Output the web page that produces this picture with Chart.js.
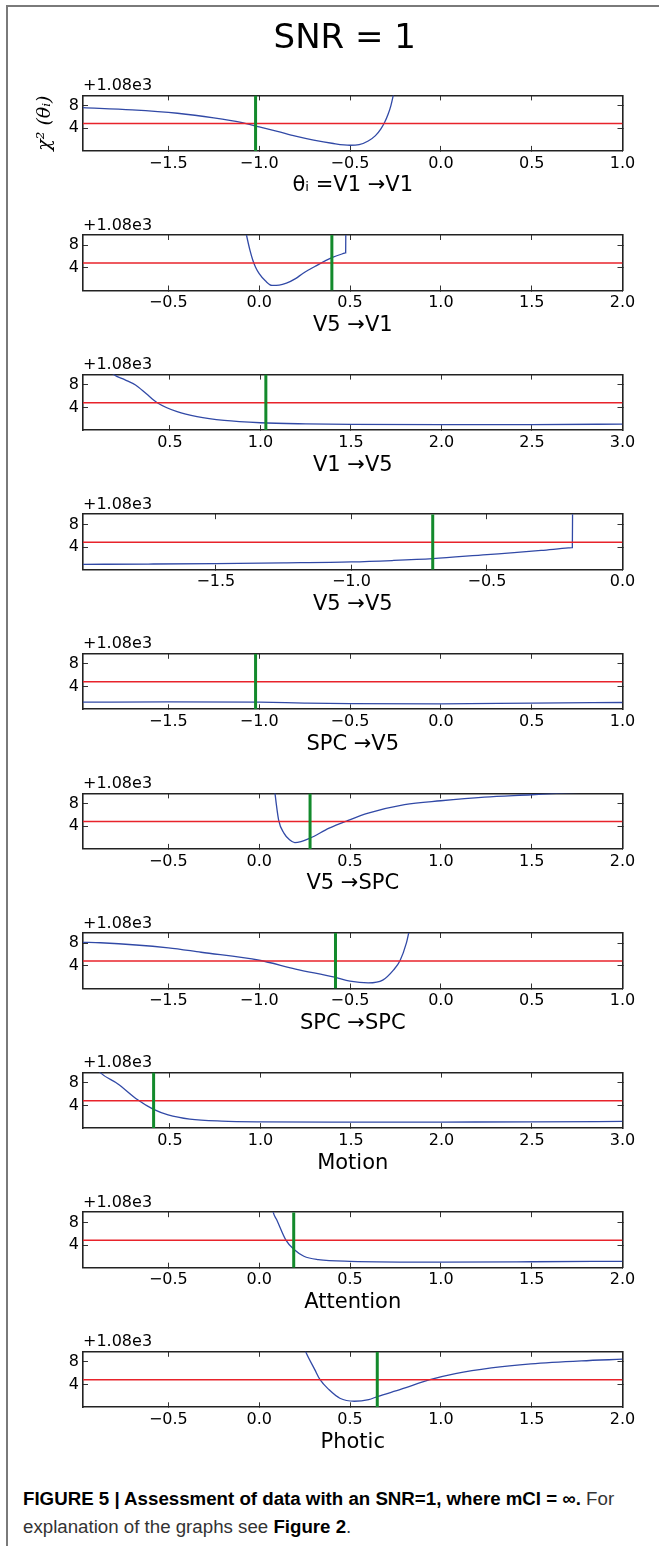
<!DOCTYPE html>
<html>
<head>
<meta charset="utf-8">
<script src="https://cdn.jsdelivr.net/npm/chart.js@4.4.0/dist/chart.umd.min.js"></script>
<style>
body{margin:0;background:#fff;}
#figure{position:relative;width:659px;height:1546px;overflow:hidden;background:#fff;}
#figure canvas{position:absolute;left:0;}
.frame_top{position:absolute;left:6px;top:5px;width:653px;height:2px;background:#7a7a7a;}
.frame_left{position:absolute;left:6px;top:5px;width:2px;height:1541px;background:#7a7a7a;}
.caption{position:absolute;left:23px;font-family:"Liberation Sans",Arial,sans-serif;font-size:18.7px;line-height:22px;color:#333;white-space:nowrap;}
.caption b{color:#000;}
</style>
</head>
<body>
<div id="figure">
  <div class="frame_top"></div>
  <div class="frame_left"></div>
  <div class="caption" style="top:1488px"><b>FIGURE 5 | Assessment of data with an SNR=1, where mCI = ∞.</b> For</div>
  <div class="caption" style="top:1516px">explanation of the graphs see <b>Figure 2</b>.</div>
</div>
<script>
//! values, chi2 is shown relative to the +1.08e3 offset

let panel_names=['θᵢ =V1 →V1','V5 →V1','V1 →V5','V5 →V5','SPC →V5','V5 →SPC','SPC →SPC','Motion','Attention','Photic'];
let panel_min=[-1.97,-0.97,0.02,-1.99,-1.97,-0.97,-1.97,0.02,-0.97,-0.97];
let panel_max=[1,2,3,0,1,2,1,3,2,2];
let ticks_neg=[-1.5,-1,-0.5,0,0.5,1];
let ticks_mid=[-0.5,0,0.5,1,1.5,2];
let ticks_pos=[0.5,1,1.5,2,2.5,3];
let ticks_self=[-1.5,-1,-0.5,0];
let panel_ticks=[ticks_neg,ticks_mid,ticks_pos,ticks_self,ticks_neg,ticks_mid,ticks_neg,ticks_pos,ticks_mid,ticks_mid];
let estimates=[-1.02,0.40,1.03,-0.70,-1.02,0.28,-0.58,0.41,0.19,0.65];
let threshold=4.85;
let y_ticks=[4,8];
let y_min=0;
let y_max=9.8;
let offset_text='+1.08e3';

let v1v1_x=[-1.97,-1.7,-1.45,-1.25,-1.1,-1.0,-0.9,-0.8,-0.7,-0.6,-0.5,-0.45,-0.4,-0.36,-0.33,-0.31,-0.29,-0.275,-0.262,-0.245];
let v1v1_y=[7.65,7.25,6.65,5.85,5.05,4.25,3.45,2.6,1.9,1.35,1.0,1.1,1.75,2.7,3.9,5.0,6.5,8.0,9.8,12.5];
let v5v1_x=[-0.09,-0.07,-0.05,-0.035,-0.02,0.0,0.035,0.07,0.11,0.15,0.2,0.24,0.31,0.4,0.47,0.475,0.476,0.477];
let v5v1_y=[13,9.8,7.0,5.35,4.1,2.97,1.66,0.9,0.95,1.3,2.1,3.0,4.3,5.8,6.6,6.65,6.65,12];
let v1v5_x=[0.1,0.19,0.25,0.31,0.37,0.43,0.54,0.65,0.8,1.0,1.25,1.5,2.0,2.5,3.0];
let v1v5_y=[13,9.8,8.9,7.95,6.4,4.84,3.25,2.36,1.7,1.3,1.1,1.0,0.95,0.98,1.05];
let v5v5_x=[-1.99,-1.75,-1.5,-1.25,-1.0,-0.85,-0.7,-0.5,-0.4,-0.3,-0.2,-0.186,-0.185,-0.184];
let v5v5_y=[0.94,1.0,1.08,1.2,1.37,1.62,1.96,2.67,3.0,3.4,3.85,3.9,3.9,12];
let spcv5_x=[-1.97,-1.5,-1.0,-0.75,-0.5,0.0,0.5,1.0];
let spcv5_y=[1.25,1.3,1.25,1.1,1.0,0.97,1.1,1.2];
let v5spc_x=[0.08,0.087,0.107,0.137,0.167,0.196,0.23,0.28,0.385,0.484,0.6,0.8,1.0,1.24,1.5,1.635,2.0];
let v5spc_y=[12,9.8,5.1,2.75,1.6,1.12,1.3,1.9,3.66,4.96,6.3,7.8,8.5,9.15,9.56,9.8,10.3];
let spcspc_x=[-1.97,-1.874,-1.5,-1.32,-1.0,-0.8,-0.585,-0.5,-0.4,-0.32,-0.26,-0.225,-0.19,-0.177,-0.16];
let spcspc_y=[8.15,8.08,7.19,6.4,4.99,3.44,2.0,1.31,1.0,1.48,3.3,4.9,8.0,9.8,12.5];
let motion_x=[0.06,0.115,0.213,0.322,0.407,0.49,0.61,0.787,1.0,1.5,2.0,2.5,3.0];
let motion_y=[12,9.8,7.8,5.0,3.35,2.35,1.6,1.23,1.1,1.05,1.07,1.1,1.17];
let attention_x=[0.06,0.077,0.097,0.147,0.192,0.246,0.325,0.5,1.0,1.5,2.0];
let attention_y=[13,9.8,8.43,4.87,3.2,2.02,1.43,1.13,1.0,1.05,1.13];
let photic_x=[0.23,0.256,0.306,0.335,0.385,0.444,0.524,0.603,0.651,0.782,0.94,1.08,1.278,1.496,1.774,2.0];
let photic_y=[12,9.8,6.65,4.87,3.09,1.6,1.07,1.37,1.9,3.2,4.87,5.94,6.95,7.66,8.2,8.49];

let curves_x=[v1v1_x,v5v1_x,v1v5_x,v5v5_x,spcv5_x,v5spc_x,spcspc_x,motion_x,attention_x,photic_x];
let curves_y=[v1v1_y,v5v1_y,v1v5_y,v5v5_y,spcv5_y,v5spc_y,spcspc_y,motion_y,attention_y,photic_y];

const font_name='DejaVu Sans';
const box_h=55.5;
function box_top(i){ return 95.4+139.6*i; }

function tick_text(v){
    return (v<0?'\u2212':'')+Math.abs(v).toFixed(1);
}

function set_ticks(list){
    return axis=>{ axis.ticks=list.map(v=>({value:v})); };
}

function spine(){
    return {display:true,color:'#222',width:1.6};
}
function tick_marks(){
    return {display:true,drawOnChartArea:false,drawTicks:true,tickLength:-5,color:'#333',lineWidth:1};
}

function make_panel(i){
    const first=(i===0);
    const canvas_top=first?0:Math.floor(box_top(i)-40);
    const area_top=box_top(i)-canvas_top;
    const h=Math.ceil(area_top+box_h+47.6);
    const canvas=document.createElement('canvas');
    canvas.width=659; canvas.height=h;
    canvas.style.width='659px'; canvas.style.height=h+'px';
    canvas.style.top=canvas_top+'px';
    document.getElementById('figure').appendChild(canvas);

    const pts=curves_x[i].map((x,k)=>({x:x,y:curves_y[i][k]}));
    const xmin=panel_min[i], xmax=panel_max[i];

    new Chart(canvas.getContext('2d'),{
        type:'line',
        data:{datasets:[
            {data:[{x:estimates[i],y:y_min},{x:estimates[i],y:y_max}],borderColor:'#138a2c',borderWidth:3,pointRadius:0,tension:0,xAxisID:'x',yAxisID:'y'},
            {data:[{x:xmin,y:threshold},{x:xmax,y:threshold}],borderColor:'#e8232b',borderWidth:1.5,pointRadius:0,tension:0,xAxisID:'x',yAxisID:'y'},
            {data:pts,borderColor:'#3149a6',borderWidth:1.3,pointRadius:0,cubicInterpolationMode:'monotone',xAxisID:'x',yAxisID:'y'}
        ]},
        options:{
            responsive:false,
            animation:false,
            events:[],
            layout:{padding:{left:67,right:36.5,top:first?0:area_top-19.2,bottom:h-(area_top+box_h+47.6)}},
            plugins:{
                legend:{display:false},
                tooltip:{enabled:false},
                title:{display:first,text:'SNR = 1',color:'#000',font:{family:font_name,size:34,weight:'normal'},padding:{top:18.6,bottom:16.8}},
                subtitle:{display:true,text:offset_text,align:'start',fullSize:false,color:'#000',font:{family:font_name,size:16,weight:'normal'},padding:{top:0,bottom:0}}
            },
            scales:{
                x:{
                    type:'linear',axis:'x',position:'bottom',min:xmin,max:xmax,
                    afterBuildTicks:set_ticks(panel_ticks[i]),
                    afterFit:a=>{a.height=47.6;},
                    grid:tick_marks(),border:spine(),
                    ticks:{padding:7.9,color:'#000',font:{family:font_name,size:16},maxRotation:0,autoSkip:false,callback:v=>tick_text(v)},
                    title:{display:true,text:panel_names[i],color:'#000',font:{family:font_name,size:21},padding:{top:0,bottom:0}}
                },
                x_top:{
                    type:'linear',axis:'x',position:'top',min:xmin,max:xmax,
                    afterBuildTicks:set_ticks(panel_ticks[i]),
                    afterFit:a=>{a.height=0;},
                    grid:tick_marks(),border:spine(),
                    ticks:{display:false}
                },
                y:{
                    type:'linear',axis:'y',position:'left',min:y_min,max:y_max,
                    afterBuildTicks:set_ticks(y_ticks),
                    afterFit:a=>{a.width=16;},
                    grid:tick_marks(),border:spine(),
                    ticks:{padding:9,color:'#000',font:{family:font_name,size:16},callback:v=>String(v)},
                    title:{display:first,text:'χ² (θᵢ)',color:'#000',font:{family:'DejaVu Serif',style:'italic',size:19},padding:{top:-33.4,bottom:0}}
                },
                y_right:{
                    type:'linear',axis:'y',position:'right',min:y_min,max:y_max,
                    afterBuildTicks:set_ticks(y_ticks),
                    afterFit:a=>{a.width=0;},
                    grid:tick_marks(),border:spine(),
                    ticks:{display:false}
                }
            }
        }
    });
}

for(let i=0;i<panel_names.length;i++){
    make_panel(i);
}
</script>
</body>
</html>
